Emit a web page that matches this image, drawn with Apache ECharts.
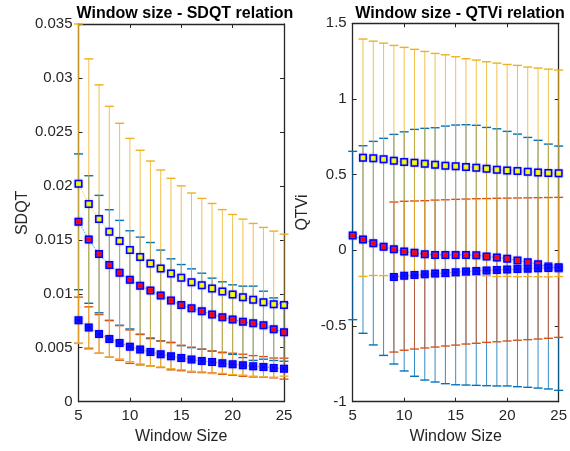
<!DOCTYPE html>
<html>
<head>
<meta charset="utf-8">
<script src="https://cdn.jsdelivr.net/npm/echarts@6/dist/echarts.min.js"></script>
<style>
  html, body { margin: 0; padding: 0; background: #fff; }
  #chart { width: 570px; height: 451px; }
</style>
</head>
<body>
<div id="chart"></div>
<script>
// window sizes (x axis)
const windowSize = [5, 6, 7, 8, 9, 10, 11, 12, 13, 14, 15, 16, 17, 18, 19, 20, 21, 22, 23, 24, 25];

// left panel: SDQT
const sdqtRedMean = [0.01667, 0.01503, 0.01368, 0.01266, 0.01194, 0.01129, 0.01074, 0.0103, 0.00984, 0.00937, 0.00895,
  0.00866, 0.00839, 0.00807, 0.00783, 0.00761, 0.0074, 0.00727, 0.00709, 0.00672, 0.00644];
const sdqtRedErr = [0.00629, 0.00591, 0.00544, 0.00513, 0.00486, 0.00455, 0.00451, 0.00445, 0.00421, 0.00387, 0.00376,
  0.00365, 0.00352, 0.00338, 0.00328, 0.00322, 0.00331, 0.00344, 0.00315, 0.0029, 0.00269];
const sdqtBlueMean = [0.00755, 0.00687, 0.00628, 0.00582, 0.00545, 0.0051, 0.00483, 0.00461, 0.0044, 0.00421, 0.00405,
  0.0039, 0.00378, 0.00368, 0.00356, 0.00347, 0.00338, 0.00328, 0.00322, 0.00313, 0.00306];
const sdqtBlueErr = [0.00214, 0.00192, 0.00179, 0.0017, 0.0016, 0.00155, 0.00142, 0.0013, 0.00123, 0.00126, 0.00118,
  0.00115, 0.00108, 0.00102, 0.00102, 0.00102, 0.00102, 0.00099, 0.00096, 0.00092, 0.00097];
const sdqtYellowMean = [0.0202, 0.01832, 0.01692, 0.01575, 0.01488, 0.01405, 0.0134, 0.0128, 0.01234, 0.01188, 0.01148,
  0.01108, 0.0108, 0.01049, 0.01021, 0.00993, 0.00969, 0.00944, 0.00922, 0.00904, 0.00895];
const sdqtYellowErr = [0.0148, 0.01345, 0.01244, 0.01162, 0.01092, 0.01035, 0.0099, 0.0095, 0.00913, 0.00882, 0.00852,
  0.00826, 0.00804, 0.00788, 0.00759, 0.00742, 0.00723, 0.00708, 0.00693, 0.00677, 0.00658];

// right panel: QTVi (null = no value at that window size)
const qtviRedMean = [0.098, 0.0715, 0.0475, 0.023, 0.0075, -0.007, -0.0165, -0.0255, -0.03, -0.03, -0.03,
  -0.03, -0.033, -0.041, -0.0465, -0.055, -0.0665, -0.0795, -0.0915, -0.107, -0.118];
const qtviRedErr = [0.556, 0.6195, 0.6725, 0.717, 0.7585, 0.79, 0.8155, 0.8315, 0.84, 0.851, 0.858,
  0.86, 0.859, 0.853, 0.8495, 0.841, 0.8345, 0.8255, 0.8185, 0.809, 0.807];
const qtviBlueMean = [null, null, null, null, -0.1765, -0.168, -0.163, -0.1585, -0.1535, -0.149, -0.1445,
  -0.14, -0.1365, -0.133, -0.13, -0.127, -0.124, -0.1215, -0.119, -0.116, -0.1125];
const qtviBlueErr = [null, null, null, null, 0.4955, 0.492, 0.489, 0.4865, 0.4855, 0.483, 0.4815,
  0.479, 0.4775, 0.475, 0.474, 0.472, 0.47, 0.4685, 0.467, 0.465, 0.4625];
const qtviYellowMean = [null, 0.612, 0.608, 0.601, 0.592, 0.583, 0.579, 0.572, 0.565, 0.559, 0.555,
  0.55, 0.546, 0.539, 0.532, 0.528, 0.524, 0.519, 0.515, 0.511, 0.509];
const qtviYellowErr = [null, 0.784, 0.774, 0.768, 0.762, 0.758, 0.749, 0.742, 0.736, 0.733, 0.724,
  0.716, 0.711, 0.707, 0.705, 0.7, 0.698, 0.692, 0.689, 0.686, 0.682];

const cBlue = "#0072BD";
const cOrange = "#D95319";
const cYellow = "#EDB120";
const textColor = "#262626";
const font = "Liberation Sans";

const chart = echarts.init(document.getElementById("chart"));

function barData(mean, err) {
  const out = [];
  windowSize.forEach((x, i) => {
    if (mean[i] == null) return;
    out.push([x, mean[i] - err[i], mean[i] + err[i]]);
  });
  return out;
}

function lineData(mean) {
  const out = [];
  windowSize.forEach((x, i) => {
    if (mean[i] == null) return;
    out.push([x, mean[i]]);
  });
  return out;
}

function errorBars(mean, err, color, axisIdx) {
  return {
    type: "custom",
    xAxisIndex: axisIdx,
    yAxisIndex: axisIdx,
    z: 2,
    silent: true,
    encode: { x: 0, y: [1, 2] },
    data: barData(mean, err),
    renderItem: function (params, api) {
      const x = api.value(0);
      const top = api.coord([x, api.value(2)]);
      const bot = api.coord([x, api.value(1)]);
      const half = 4.5;
      const style = { stroke: color, lineWidth: 1, opacity: 0.8 };
      return {
        type: "group",
        children: [
          { type: "line", shape: { x1: top[0], y1: top[1], x2: bot[0], y2: bot[1] }, style: style },
          { type: "line", shape: { x1: top[0] - half, y1: top[1], x2: top[0] + half, y2: top[1] }, style: { stroke: color, lineWidth: 1.4 } },
          { type: "line", shape: { x1: bot[0] - half, y1: bot[1], x2: bot[0] + half, y2: bot[1] }, style: { stroke: color, lineWidth: 1.4 } },
        ],
      };
    },
  };
}

function markers(mean, fill, lineColor, axisIdx) {
  return {
    type: "line",
    xAxisIndex: axisIdx,
    yAxisIndex: axisIdx,
    z: 5,
    silent: true,
    data: lineData(mean),
    symbol: "rect",
    symbolSize: 6.5,
    showAllSymbol: true,
    lineStyle: { color: lineColor, width: 1, type: "dotted", opacity: 0.8 },
    itemStyle: {
      color: fill,
      borderColor: "#0000FF",
      borderWidth: 1.5,
      shadowColor: "rgba(110,110,255,0.6)",
      shadowBlur: 2,
    },
    animation: false,
  };
}

function xAx(gridIdx, pos) {
  return {
    type: "value",
    gridIndex: gridIdx,
    position: pos,
    min: 5,
    max: 25,
    interval: 5,
    name: pos === "bottom" ? "Window Size" : "",
    nameLocation: "middle",
    nameGap: 27,
    nameTextStyle: { color: textColor, fontSize: 16, fontFamily: font },
    axisLine: { show: true, onZero: false, lineStyle: { color: textColor, width: 1.3 } },
    axisTick: { show: true, inside: true, length: 4, lineStyle: { color: textColor } },
    axisLabel: { show: pos === "bottom", color: textColor, fontSize: 15, fontFamily: font, margin: 7 },
    splitLine: { show: false },
  };
}

function yAx(gridIdx, pos, min, max, interval, name, gap) {
  return {
    type: "value",
    gridIndex: gridIdx,
    position: pos,
    min: min,
    max: max,
    interval: interval,
    name: pos === "left" ? name : "",
    nameLocation: "middle",
    nameGap: gap,
    nameTextStyle: { color: textColor, fontSize: 16, fontFamily: font },
    axisLine: { show: true, onZero: false, lineStyle: { color: textColor, width: 1.3 } },
    axisTick: { show: true, inside: true, length: 4, lineStyle: { color: textColor } },
    axisLabel: { show: pos === "left", color: textColor, fontSize: 15, fontFamily: font, margin: 6 },
    splitLine: { show: false },
  };
}

const option = {
  backgroundColor: "#fff",
  animation: false,
  title: [
    {
      text: "Window size - SDQT relation",
      left: 180, top: 1, textAlign: "center",
      textStyle: { color: "#000", fontSize: 16, fontWeight: "bold", fontFamily: font },
    },
    {
      text: "Window size - QTVi relation",
      left: 455, top: 1, textAlign: "center",
      textStyle: { color: "#000", fontSize: 16, fontWeight: "bold", fontFamily: font },
    },
  ],
  grid: [
    { left: 78.5, right: 286, top: 24, bottom: 49.3 },
    { left: 352.7, right: 11.3, top: 23.3, bottom: 49.3 },
  ],
  xAxis: [xAx(0, "bottom"), xAx(0, "top"), xAx(1, "bottom"), xAx(1, "top")],
  yAxis: [
    yAx(0, "left", 0, 0.035, 0.005, "SDQT", 47),
    yAx(0, "right", 0, 0.035, 0.005, "", 0),
    yAx(1, "left", -1, 1.5, 0.5, "QTVi", 42),
    yAx(1, "right", -1, 1.5, 0.5, "", 0),
  ],
  series: [
    errorBars(sdqtRedMean, sdqtRedErr, cBlue, 0),
    errorBars(sdqtBlueMean, sdqtBlueErr, cOrange, 0),
    errorBars(sdqtYellowMean, sdqtYellowErr, cYellow, 0),
    markers(sdqtRedMean, "#FF0000", cBlue, 0),
    markers(sdqtBlueMean, "#0000FF", cOrange, 0),
    markers(sdqtYellowMean, "#FFFF00", cYellow, 0),
    errorBars(qtviRedMean, qtviRedErr, cBlue, 2),
    errorBars(qtviBlueMean, qtviBlueErr, cOrange, 2),
    errorBars(qtviYellowMean, qtviYellowErr, cYellow, 2),
    markers(qtviRedMean, "#FF0000", cBlue, 2),
    markers(qtviBlueMean, "#0000FF", cOrange, 2),
    markers(qtviYellowMean, "#FFFF00", cYellow, 2),
  ],
};

chart.setOption(option);
</script>
</body>
</html>
